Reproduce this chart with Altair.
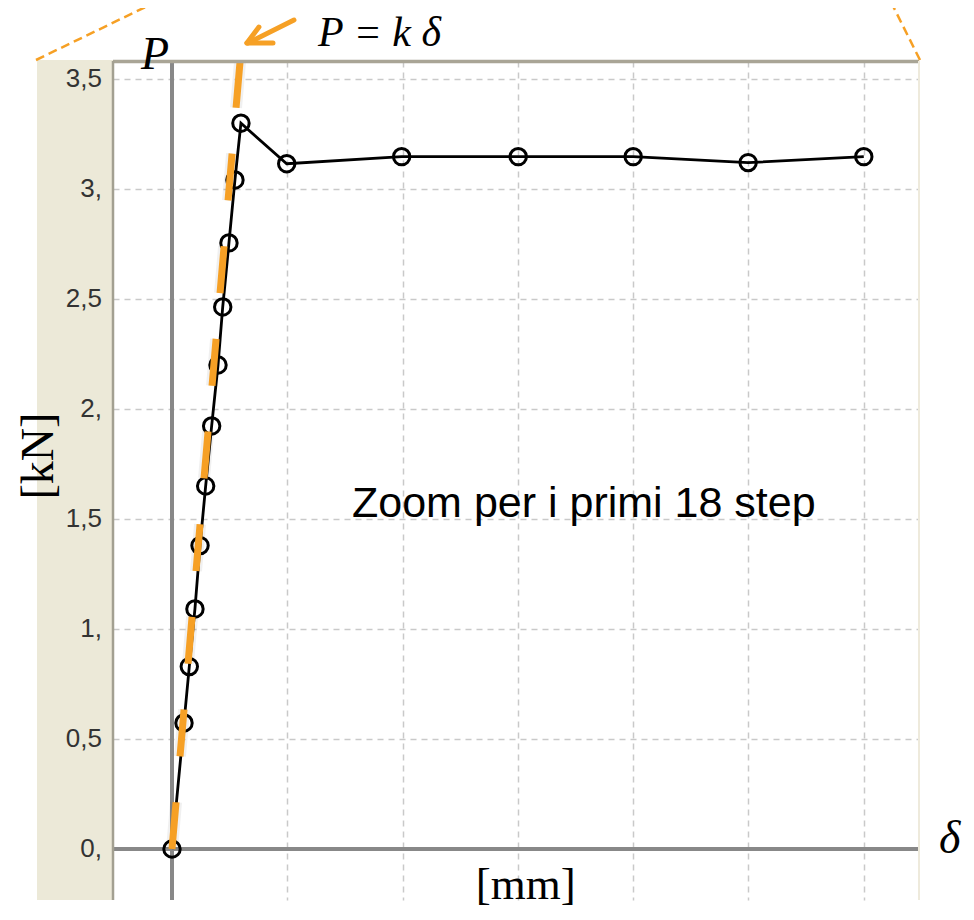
import altair as alt
import pandas as pd

# ---------------- data ----------------
step = list(range(1, 19))
delta_mm = [0.0, 0.104, 0.150, 0.199, 0.243, 0.292, 0.344, 0.399, 0.440,
            0.494, 0.546, 0.598, 0.995, 1.992, 3.003, 4.000, 4.997, 6.000]
P_kN = [0.0, 0.573, 0.829, 1.091, 1.379, 1.650, 1.923, 2.200, 2.464,
        2.755, 3.041, 3.299, 3.115, 3.147, 3.147, 3.147, 3.120, 3.147]

y_ticks = [0, 0.5, 1, 1.5, 2, 2.5, 3, 3.5]
y_tick_labels = ["0,", "0,5", "1,", "1,5", "2,", "2,5", "3,", "3,5"]
x_grid = [1, 2, 3, 4, 5, 6]

# elastic line P = k * delta (two end points)
elastic_delta = [0.0, 0.62]
elastic_P = [0.0, 3.76]

# annotation anchors (data units)
ann_italic_text = ["P = k δ", "P", "δ"]
ann_italic_delta = [1.800, -0.147, 6.746]
ann_italic_P = [3.650, 3.545, -0.018]
ann_italic_size = [42, 46, 46]

arrow_delta = [1.058, 0.650, 0.650]
arrow_P = [3.768, 3.664, 3.664]
arrow_delta2 = [0.659, 0.754, 0.876]
arrow_P2 = [3.664, 3.736, 3.664]

ORANGE = "#F6A025"

df = pd.DataFrame({"step": step, "delta": delta_mm, "P": P_kN})
ticks_df = pd.DataFrame({"P": y_ticks, "label": y_tick_labels})
elastic_df = pd.DataFrame({"delta": elastic_delta, "P": elastic_P})
italic_df = pd.DataFrame({"delta": ann_italic_delta, "P": ann_italic_P,
                          "t": ann_italic_text, "s": ann_italic_size})
arrow_df = pd.DataFrame({"delta": arrow_delta, "P": arrow_P,
                         "delta2": arrow_delta2, "P2": arrow_P2})
dummy = pd.DataFrame({"a": [0]})

xs = alt.Scale(domain=[-0.5117, 6.479], nice=False, zero=False)
ys = alt.Scale(domain=[-0.2318, 3.5818], nice=False, zero=False)

x_axis = alt.Axis(values=x_grid, grid=True, labels=False, ticks=False, domain=False,
                  title=None, gridDash=[6, 5], gridColor="#c9c9c9", gridWidth=1.5)
y_axis = alt.Axis(values=y_ticks, grid=True, labels=False, ticks=False, domain=False,
                  title=None, gridDash=[6, 5], gridColor="#c9c9c9", gridWidth=1.5)


def X(f="delta"):
    return alt.X(f, type="quantitative", scale=xs, axis=x_axis)


def Y(f="P"):
    return alt.Y(f, type="quantitative", scale=ys, axis=y_axis)


W, H = 806, 839

beige = alt.Chart(dummy).mark_rect(color="#ECE9D8").encode(
    x=alt.value(-76), x2=alt.value(0), y=alt.value(-1), y2=alt.value(H))

top_border = alt.Chart(dummy).mark_rule(color="#A9A596", strokeWidth=3.5).encode(
    x=alt.value(0), x2=alt.value(W), y=alt.value(0.5))
left_border = alt.Chart(dummy).mark_rule(color="#A3A091", strokeWidth=2.5).encode(
    x=alt.value(0), y=alt.value(0), y2=alt.value(H))
right_border = alt.Chart(dummy).mark_rule(color="#EEEADC", strokeWidth=2).encode(
    x=alt.value(W), y=alt.value(0), y2=alt.value(H))

zero_h = alt.Chart(dummy).mark_rule(color="#888888", strokeWidth=4).encode(y=alt.datum(0, scale=ys))
zero_v = alt.Chart(dummy).mark_rule(color="#888888", strokeWidth=4).encode(x=alt.datum(0, scale=xs))

line = alt.Chart(df).mark_line(color="black", strokeWidth=2.8).encode(
    x=X(), y=Y(), order="step:Q")
pts = alt.Chart(df).mark_point(shape="circle", filled=False, size=270,
                               strokeWidth=3, color="black", opacity=1).encode(x=X(), y=Y())

shadow = alt.Chart(elastic_df).mark_line(clip=True, color="black", opacity=0.06,
                                         strokeWidth=12, strokeDash=[47, 46]).encode(x=X(), y=Y())
elastic = alt.Chart(elastic_df).mark_line(clip=True, color=ORANGE, strokeWidth=7,
                                          strokeDash=[47, 46]).encode(x=X(), y=Y())

labels = alt.Chart(ticks_df).mark_text(align="right", baseline="middle", font="Liberation Sans",
                                       fontSize=26, color="#333333").encode(
    x=alt.value(-11), y=Y(), text="label:N")

italic = alt.Chart(italic_df).mark_text(align="center", baseline="alphabetic",
                                        font="Liberation Serif", fontStyle="italic",
                                        color="black").encode(
    x=X(), y=Y(), text="t:N", size=alt.Size("s:Q", scale=None, legend=None))

mm = alt.Chart(pd.DataFrame({"delta": [3.069], "P": [-0.227], "t": ["[mm]"]})).mark_text(
    align="center", baseline="alphabetic", font="Liberation Serif", fontSize=45,
    color="black").encode(x=X(), y=Y(), text="t:N")

kn = alt.Chart(pd.DataFrame({"delta": [-1.15], "P": [1.786], "t": ["[kN]"]})).mark_text(
    align="center", baseline="middle", font="Liberation Serif", fontSize=46, angle=270,
    color="black").encode(x=X(), y=Y(), text="t:N")

zoom_txt = alt.Chart(pd.DataFrame({"delta": [3.572], "P": [1.509],
                                   "t": ["Zoom per i primi 18 step"]})).mark_text(
    align="center", baseline="alphabetic", font="Liberation Sans", fontSize=43,
    color="black").encode(x=X(), y=Y(), text="t:N")

arrow = alt.Chart(arrow_df).mark_rule(color=ORANGE, strokeWidth=5, strokeCap="round").encode(
    x=X(), y=Y(), x2="delta2:Q", y2="P2:Q")

outer_l = alt.Chart(dummy).mark_rule(color=ORANGE, strokeWidth=2.5, strokeDash=[9, 5]).encode(
    x=alt.value(-77), y=alt.value(-1), x2=alt.value(47), y2=alt.value(-61))
outer_r = alt.Chart(dummy).mark_rule(color=ORANGE, strokeWidth=2.5, strokeDash=[9, 5]).encode(
    x=alt.value(807), y=alt.value(-1), x2=alt.value(777), y2=alt.value(-61))

chart = alt.layer(
    beige, zero_h, zero_v, line, pts, shadow, elastic,
    top_border, left_border, right_border,
    labels, italic, mm, kn, zoom_txt, arrow, outer_l, outer_r
).properties(
    width=W, height=H,
    autosize=alt.AutoSizeParams(type="none"),
    padding={"left": 105, "top": 53, "right": 47, "bottom": 12},
    background="white",
).configure_view(stroke=None)

chart.save("out.html", embed_options={"renderer": "svg", "actions": False})
